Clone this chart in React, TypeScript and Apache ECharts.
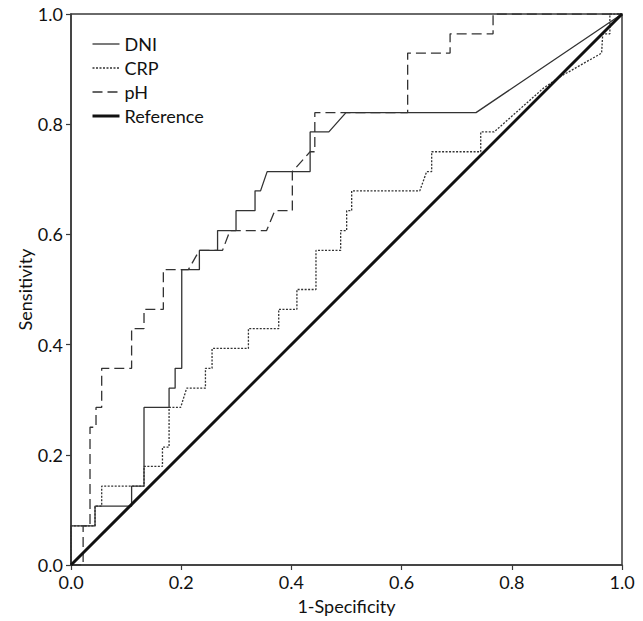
import React, { useEffect, useRef } from "react";
import * as echarts from "echarts";

const SERIES_NAMES = ["DNI", "CRP", "pH", "Reference"];

const DNI_X = [0, 0, 0.0436, 0.0436, 0.11, 0.11, 0.1325, 0.1325, 0.178, 0.178, 0.189, 0.189, 0.201, 0.201, 0.233, 0.233, 0.266, 0.266, 0.2995, 0.2995, 0.334, 0.334, 0.344, 0.356, 0.434, 0.434, 0.468, 0.499, 0.735, 1];
const DNI_Y = [0, 0.071, 0.071, 0.107, 0.107, 0.143, 0.143, 0.286, 0.286, 0.321, 0.321, 0.357, 0.357, 0.536, 0.536, 0.571, 0.571, 0.607, 0.607, 0.643, 0.643, 0.679, 0.679, 0.714, 0.714, 0.786, 0.786, 0.821, 0.821, 1];

const CRP_X = [0, 0, 0.0436, 0.0436, 0.0557, 0.0557, 0.1325, 0.1325, 0.166, 0.166, 0.178, 0.178, 0.199, 0.21, 0.244, 0.244, 0.256, 0.256, 0.322, 0.322, 0.377, 0.377, 0.41, 0.41, 0.4446, 0.4446, 0.4894, 0.4894, 0.5003, 0.5003, 0.5094, 0.5094, 0.633, 0.6455, 0.6546, 0.6546, 0.7436, 0.7436, 0.768, 0.857, 0.8875, 0.963, 0.965, 0.978, 0.978, 1];
const CRP_Y = [0, 0.071, 0.071, 0.107, 0.107, 0.143, 0.143, 0.179, 0.179, 0.214, 0.214, 0.286, 0.286, 0.321, 0.321, 0.357, 0.357, 0.393, 0.393, 0.429, 0.429, 0.464, 0.464, 0.5, 0.5, 0.571, 0.571, 0.607, 0.607, 0.643, 0.643, 0.679, 0.679, 0.714, 0.714, 0.75, 0.75, 0.786, 0.786, 0.865, 0.886, 0.929, 0.964, 0.964, 1, 1];

const PH_X = [0, 0.022, 0.022, 0.0345, 0.0345, 0.0454, 0.0454, 0.0557, 0.0557, 0.11, 0.11, 0.1325, 0.1325, 0.1676, 0.1676, 0.213, 0.233, 0.275, 0.2886, 0.355, 0.37, 0.4017, 0.4017, 0.434, 0.4425, 0.4425, 0.611, 0.611, 0.688, 0.688, 0.766, 0.766, 1];
const PH_Y = [0, 0, 0.071, 0.071, 0.25, 0.25, 0.286, 0.286, 0.357, 0.357, 0.429, 0.429, 0.464, 0.464, 0.536, 0.536, 0.571, 0.571, 0.607, 0.607, 0.643, 0.643, 0.714, 0.75, 0.75, 0.821, 0.821, 0.929, 0.929, 0.964, 0.964, 1, 1];

const REF_X = [0, 1];
const REF_Y = [0, 1];

const zip = (xs: number[], ys: number[]) => xs.map((x, i) => [x, ys[i]]);

const FONT = "Lato";
const AXIS_COLOR = "#3a3a3a";
const LINE_COLOR = "#333333";
const TEXT_COLOR = "#111111";

const LINE_STYLES: Record<string, { width: number; type: any; color: string }> = {
  DNI: { width: 1.3, type: "solid", color: LINE_COLOR },
  CRP: { width: 1.3, type: [2, 1.5], color: LINE_COLOR },
  pH: { width: 1.3, type: [10, 5], color: LINE_COLOR },
  Reference: { width: 3, type: "solid", color: "#111111" },
};

export default function App() {
  const ref = useRef<HTMLDivElement>(null);
  useEffect(() => {
    if (!ref.current) return;
    const chart = echarts.init(ref.current, null, { renderer: "svg" });
    const axisCommon = {
      type: "value" as const,
      min: 0,
      max: 1,
      interval: 0.2,
      axisLine: { show: true, lineStyle: { color: AXIS_COLOR, width: 1.5 } },
      axisTick: { show: true, length: 5, lineStyle: { color: AXIS_COLOR, width: 1.2 } },
      splitLine: { show: false },
      axisLabel: {
        color: TEXT_COLOR,
        fontFamily: FONT,
        fontSize: 18,
        margin: 8,
        formatter: (v: number) => v.toFixed(1),
      },
      nameLocation: "middle" as const,
      nameMoveOverlap: false,
      nameTextStyle: { color: TEXT_COLOR, fontFamily: FONT, fontSize: 18 },
    };
    const lineSeries = (name: string, xs: number[], ys: number[]) => ({
      name,
      type: "line",
      data: zip(xs, ys),
      showSymbol: false,
      symbol: "none",
      lineStyle: { ...LINE_STYLES[name] },
      itemStyle: { color: LINE_STYLES[name].color },
    });
    chart.setOption({
      animation: false,
      backgroundColor: "#ffffff",
      grid: {
        left: 71,
        top: 14,
        width: 551,
        height: 551,
        show: true,
        borderColor: AXIS_COLOR,
        borderWidth: 1.5,
        backgroundColor: "transparent",
      },
      legend: {
        data: SERIES_NAMES.map((n) => ({
          name: n,
          lineStyle: { ...LINE_STYLES[n] },
        })),
        orient: "vertical",
        left: 86,
        top: 30,
        itemWidth: 27,
        itemHeight: 14,
        itemGap: 6,
        itemStyle: { opacity: 0 },
        textStyle: {
          color: TEXT_COLOR,
          fontFamily: FONT,
          fontSize: 18,
          lineHeight: 18,
        },
      },
      xAxis: {
        ...axisCommon,
        name: "1-Specificity",
        nameGap: 32,
      },
      yAxis: {
        ...axisCommon,
        name: "Sensitivity",
        nameGap: 37,
      },
      series: [
        lineSeries("DNI", DNI_X, DNI_Y),
        lineSeries("CRP", CRP_X, CRP_Y),
        lineSeries("pH", PH_X, PH_Y),
        lineSeries("Reference", REF_X, REF_Y),
      ],
    });
    return () => chart.dispose();
  }, []);
  return (
    <div
      ref={ref}
      style={{ position: "absolute", left: 0, top: 0, width: 643, height: 621 }}
    />
  );
}
